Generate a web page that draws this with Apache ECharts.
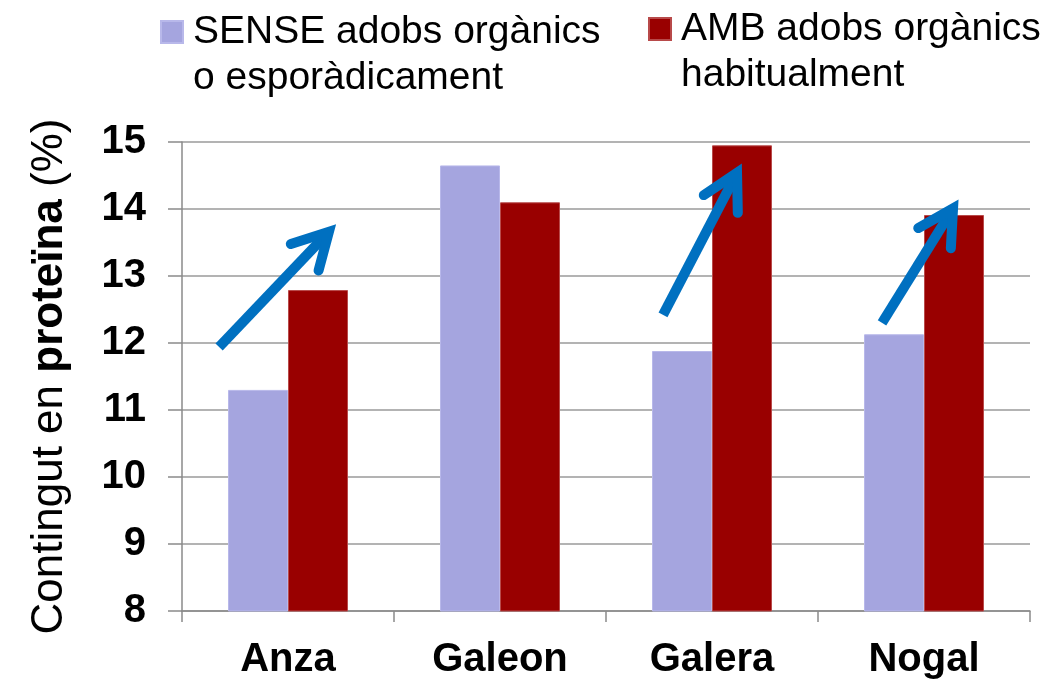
<!DOCTYPE html>
<html lang="ca">
<head>
    <meta charset="UTF-8">
    <title>Contingut en proteïna</title>
    <script src="https://cdn.jsdelivr.net/npm/echarts@6/dist/echarts.min.js"></script>
    <style>
        html, body { margin: 0; padding: 0; background: #fff; }
        #main { width: 1050px; height: 684px; }
    </style>
</head>
<body>
<div id="main"></div>
<script>
    // dades llegides del gràfic
    var categories = ['Anza', 'Galeon', 'Galera', 'Nogal'];
    var senseValues = [11.3, 14.65, 11.88, 12.13];   // SENSE adobs orgànics
    var ambValues = [12.79, 14.1, 14.95, 13.91];     // AMB adobs orgànics
    var yTicks = [8, 9, 10, 11, 12, 13, 14, 15];
    // fletxes: [x inici, y inici, x final, y final] (x en unitats de categoria)
    var arrowAnza = [-0.325, 11.94, 0.193, 13.66];
    var arrowGalera = [1.769, 12.42, 2.118, 14.54];
    var arrowNogal = [2.802, 12.30, 3.137, 14.01];

    var senseName = 'SENSE adobs orgànics';
    var ambName = 'AMB adobs orgànics';
    // la primera línia buida fa que la icona quedi a l'altura de la primera línia de text
    var legendLabels = {};
    legendLabels[senseName] = ' \nSENSE adobs orgànics\no esporàdicament';
    legendLabels[ambName] = ' \nAMB adobs orgànics\nhabitualment';

    var font = '"Liberation Sans", Arial, sans-serif';
    var legendText = {
        fontFamily: font,
        fontSize: 39,
        lineHeight: 46,
        color: '#000',
        padding: [0, 0, 0, 5]
    };

    var myChart = echarts.init(document.getElementById('main'));

    var option = {
        animation: false,
        textStyle: { fontFamily: font },
        legend: [
            {
                data: [senseName],
                left: 160,
                top: -37,
                padding: 0,
                itemWidth: 22,
                itemHeight: 22,
                icon: 'rect',
                formatter: function (n) { return legendLabels[n]; },
                textStyle: legendText
            },
            {
                data: [ambName],
                left: 648,
                top: -40,
                padding: 0,
                itemWidth: 22,
                itemHeight: 22,
                icon: 'rect',
                formatter: function (n) { return legendLabels[n]; },
                textStyle: legendText
            }
        ],
        grid: {
            left: 182,
            right: 20,
            top: 142,
            bottom: 73
        },
        xAxis: [
            {
                type: 'category',
                data: categories,
                axisLine: { onZero: false, lineStyle: { color: '#8a8a8a', width: 1.5 } },
                axisTick: { show: true, length: 11, lineStyle: { color: '#8a8a8a', width: 1.5 } },
                axisLabel: {
                    color: '#000',
                    fontSize: 40,
                    fontWeight: 'bold',
                    margin: 29
                }
            },
            {
                // eix ocult per situar les fletxes
                type: 'value',
                min: -0.5,
                max: 3.5,
                show: false
            }
        ],
        yAxis: {
            type: 'value',
            position: 'left',
            min: yTicks[0],
            max: yTicks[yTicks.length - 1],
            interval: 1,
            name: '{n|Contingut en }{b|proteïna}{n| (%)}',
            nameLocation: 'middle',
            nameGap: 110,
            nameTextStyle: {
                rich: {
                    n: { fontSize: 44, color: '#000', fontFamily: font },
                    b: { fontSize: 44, color: '#000', fontWeight: 'bold', fontFamily: font }
                }
            },
            axisLine: { show: true, onZero: false, lineStyle: { color: '#8a8a8a', width: 1.5 } },
            axisTick: { show: true, length: 14, lineStyle: { color: '#8a8a8a', width: 1.5 } },
            splitLine: { lineStyle: { color: '#9a9a9a', width: 1.5 } },
            axisLabel: {
                color: '#000',
                fontSize: 40,
                fontWeight: 'bold',
                margin: 36
            }
        },
        series: [
            {
                name: senseName,
                type: 'bar',
                barWidth: 60,
                barGap: '0%',
                data: senseValues,
                itemStyle: { color: '#a5a5df', borderColor: '#b8b8ea', borderWidth: 1 }
            },
            {
                name: ambName,
                type: 'bar',
                barWidth: 60,
                data: ambValues,
                itemStyle: { color: '#990000', borderColor: '#b84a4a', borderWidth: 1 }
            },
            {
                type: 'custom',
                xAxisIndex: 1,
                yAxisIndex: 0,
                silent: true,
                z: 10,
                data: [arrowAnza, arrowGalera, arrowNogal],
                encode: { x: [0, 2], y: [1, 3] },
                renderItem: function (params, api) {
                    var p0 = api.coord([api.value(0), api.value(1)]);
                    var p1 = api.coord([api.value(2), api.value(3)]);
                    var ang = Math.atan2(p0[1] - p1[1], p0[0] - p1[0]);
                    var len = 40, spread = 0.5;
                    var h1 = [p1[0] + len * Math.cos(ang + spread), p1[1] + len * Math.sin(ang + spread)];
                    var h2 = [p1[0] + len * Math.cos(ang - spread), p1[1] + len * Math.sin(ang - spread)];
                    var blue = '#0070c0';
                    return {
                        type: 'group',
                        children: [
                            {
                                type: 'polyline',
                                shape: { points: [p0, p1] },
                                style: { stroke: blue, lineWidth: 10, lineCap: 'butt', fill: null }
                            },
                            {
                                type: 'polyline',
                                shape: { points: [h1, p1, h2] },
                                style: { stroke: blue, lineWidth: 10, lineCap: 'round', lineJoin: 'miter', fill: null }
                            }
                        ]
                    };
                }
            }
        ]
    };

    myChart.setOption(option);
</script>
</body>
</html>
